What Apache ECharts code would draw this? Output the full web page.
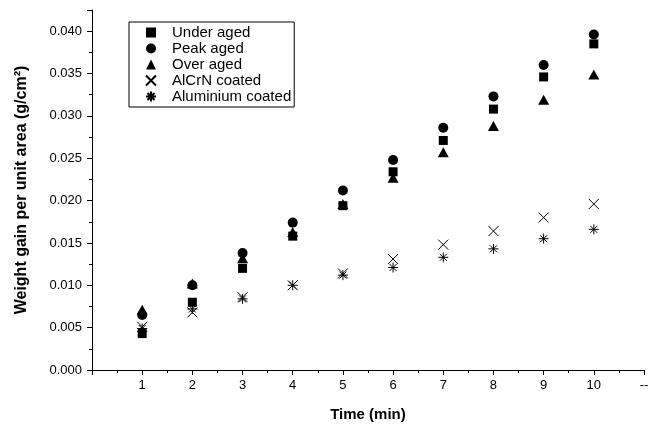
<!DOCTYPE html>
<html>
<head>
<meta charset="utf-8">
<script src="https://cdn.jsdelivr.net/npm/echarts@6/dist/echarts.min.js"></script>
<style>
html,body{margin:0;padding:0;background:#fff;}
#chart{width:656px;height:427px;}
</style>
</head>
<body>
<div id="chart"></div>
<script>
// ---- data ----
const time = [1, 2, 3, 4, 5, 6, 7, 8, 9, 10];
const underAged = [0.0043, 0.0080, 0.0120, 0.0158, 0.0194, 0.0234, 0.0271, 0.0308, 0.0346, 0.0385];
const peakAged = [0.0065, 0.0100, 0.0138, 0.0174, 0.0212, 0.0248, 0.0286, 0.0323, 0.0360, 0.0396];
const overAged = [0.0071, 0.0102, 0.0132, 0.0163, 0.0196, 0.0227, 0.0257, 0.0288, 0.0319, 0.0349];
const alcrnCoated = [0.0051, 0.0068, 0.0086, 0.0100, 0.0114, 0.0131, 0.0148, 0.0164, 0.0180, 0.0196];
const aluminiumCoated = [0.0049, 0.0072, 0.0084, 0.0100, 0.0112, 0.0121, 0.0133, 0.0143, 0.0155, 0.0166];
const seriesNames = ['Under aged', 'Peak aged', 'Over aged', 'AlCrN coated', 'Aluminium coated'];
const xTickLabels = {0: '', 11: '--'};

const FONT = '"Liberation Sans", Arial, sans-serif';
const pair = arr => time.map((t, i) => [t, arr[i]]);
const X_PATH = 'path://M0,0L10,10M10,0L0,10';
const AST_PATH = 'path://M5,0L5,10M0,5L10,5M1.5,1.5L8.5,8.5M8.5,1.5L1.5,8.5';

const chart = echarts.init(document.getElementById('chart'), null, {renderer: 'canvas'});
const filled = {color: '#000', opacity: 1};
const stroked = {color: 'rgba(0,0,0,0)', borderColor: '#000', borderWidth: 1, opacity: 1};

chart.setOption({
  backgroundColor: '#fff',
  animation: false,
  textStyle: {fontFamily: FONT},
  grid: {left: 92, right: 12, top: 10, bottom: 52},
  legend: {
    orient: 'vertical',
    left: 129, top: 22,
    padding: [3, 3, 3, 16],
    itemWidth: 10, itemHeight: 10, itemGap: 1,
    borderColor: '#000', borderWidth: 1,
    backgroundColor: '#fff',
    textStyle: {fontSize: 15, lineHeight: 12, color: '#000', fontFamily: FONT, padding: [0, 0, 0, 11]},
    data: seriesNames
  },
  xAxis: {
    type: 'value',
    min: 0, max: 11, interval: 1,
    name: 'Time (min)',
    nameLocation: 'middle',
    nameGap: 37,
    nameTextStyle: {fontSize: 15, fontWeight: 'bold', color: '#000', fontFamily: FONT},
    axisLine: {show: true, onZero: false, lineStyle: {color: '#000', width: 1}},
    axisTick: {show: true, inside: false, length: 5, lineStyle: {color: '#000'}},
    minorTick: {show: true, splitNumber: 2, length: 3, lineStyle: {color: '#000'}},
    splitLine: {show: false},
    axisLabel: {
      fontSize: 13, color: '#000', margin: 9, fontFamily: FONT,
      formatter: v => (v in xTickLabels ? xTickLabels[v] : String(v))
    }
  },
  yAxis: {
    type: 'value',
    min: 0, max: 0.0425, interval: 0.005,
    name: 'Weight gain per unit area (g/cm²)',
    nameLocation: 'middle',
    nameGap: 62,
    nameTextStyle: {fontSize: 16, fontWeight: 'bold', color: '#000', fontFamily: FONT},
    axisLine: {show: true, onZero: false, lineStyle: {color: '#000', width: 1}},
    axisTick: {show: true, inside: false, length: 5, lineStyle: {color: '#000'}},
    minorTick: {show: true, splitNumber: 2, length: 3, lineStyle: {color: '#000'}},
    splitLine: {show: false},
    axisLabel: {
      fontSize: 13, color: '#000', margin: 10, fontFamily: FONT, showMaxLabel: true,
      formatter: v => {
        const k = v / 0.005;
        return Math.abs(k - Math.round(k)) > 1e-6 ? '' : v.toFixed(3);
      }
    }
  },
  series: [
    {name: seriesNames[0], type: 'scatter', symbol: 'rect', symbolSize: 9, itemStyle: filled, data: pair(underAged)},
    {name: seriesNames[1], type: 'scatter', symbol: 'circle', symbolSize: 10, itemStyle: filled, data: pair(peakAged)},
    {name: seriesNames[2], type: 'scatter', symbol: 'triangle', symbolSize: [11, 10], itemStyle: filled, data: pair(overAged)},
    {name: seriesNames[3], type: 'scatter', symbol: X_PATH, symbolSize: 10, itemStyle: stroked, data: pair(alcrnCoated)},
    {name: seriesNames[4], type: 'scatter', symbol: AST_PATH, symbolSize: 10, itemStyle: stroked, data: pair(aluminiumCoated)}
  ]
});
</script>
</body>
</html>
